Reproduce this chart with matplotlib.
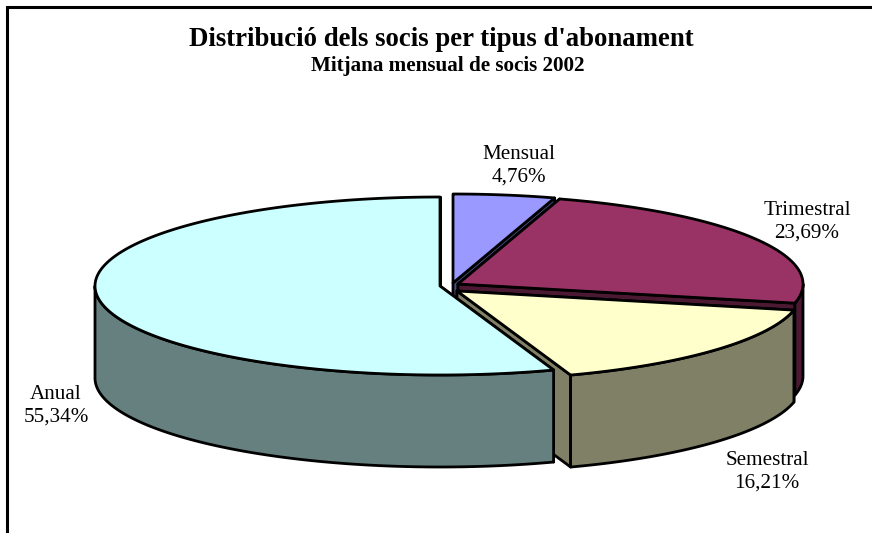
import numpy as np
import matplotlib
matplotlib.use("Agg")
import matplotlib.pyplot as plt

title = "Distribució dels socis per tipus d'abonament"
subtitle = "Mitjana mensual de socis 2002"
categories = ["Mensual", "Trimestral", "Semestral", "Anual"]
shares = [4.76, 23.69, 16.21, 55.34]

top_colors = ["#9999FF", "#993366", "#FFFFCC", "#CCFFFF"]
side_colors = ["#4C4C80", "#4C1933", "#808066", "#668080"]
apex_x = [453, 458, 457, 440]
apex_y = [283, 284, 291, 286]
radius_x = 345
radius_y = 89
depth = 92
label_xy = [(519, 166), (807, 222), (767, 472), (56, 406)]

plt.rcParams["font.family"] = ["Liberation Serif", "DejaVu Serif"]
fig = plt.figure(figsize=(8.72, 5.33), dpi=100)
ax = fig.add_axes([0, 0, 1, 1])
ax.set_xlim(0, 872)
ax.set_ylim(533, 0)
ax.axis("off")

LW = 2.0
edge = dict(edgecolor="black", linewidth=LW, joinstyle="round")


def rim(cx, cy, a):
    return cx + radius_x * np.sin(a), cy - radius_y * np.cos(a)


boundaries = np.radians(np.concatenate([[0], np.cumsum(shares)]) / sum(shares) * 360)
for i in range(len(shares)):
    a0, a1 = boundaries[i], boundaries[i + 1]
    cx, cy = apex_x[i], apex_y[i]
    for a in (a0, a1):
        x, y = rim(cx, cy, a)
        ax.fill([cx, x, x, cx], [cy, y, y + depth, cy + depth],
                facecolor=side_colors[i], **edge)
    lo, hi = max(a0, np.pi / 2), min(a1, 3 * np.pi / 2)
    if hi > lo:
        t = np.linspace(lo, hi, 120)
        x, y = rim(cx, cy, t)
        ax.fill(np.r_[x, x[::-1]], np.r_[y, y[::-1] + depth],
                facecolor=side_colors[i], **edge)
    t = np.linspace(a0, a1, 240)
    x, y = rim(cx, cy, t)
    ax.fill(np.r_[cx, x], np.r_[cy, y], facecolor=top_colors[i], **edge)

for name, share, (lx, ly) in zip(categories, shares, label_xy):
    ax.text(lx, ly, f"{name}\n{share:.2f}%".replace(".", ","), ha="center", va="center",
            fontsize=15.2, linespacing=1.27, color="black")

ax.text(441, 40, title, ha="center", va="center", fontsize=19.3, fontweight="bold")
ax.text(448, 66, subtitle, ha="center", va="center", fontsize=15.2, fontweight="bold")

ax.plot([872, 7, 7], [7, 7, 533], color="black", linewidth=2.2, solid_joinstyle="miter")
fig.savefig("out.png", dpi=100)
